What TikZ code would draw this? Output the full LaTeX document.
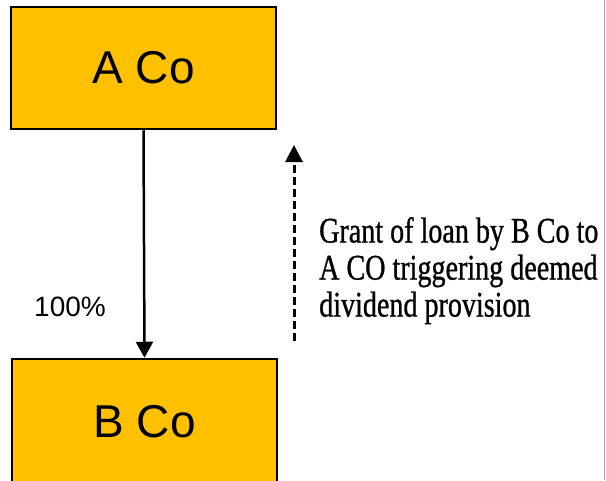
\documentclass[tikz,border=0pt]{standalone}
\usepackage{fontspec}
\setmainfont{Liberation Sans}
\newfontfamily\condserif[FakeStretch=0.78, FakeBold=0.8]{Liberation Serif}
\usetikzlibrary{arrows.meta, positioning}
\definecolor{coyellow}{HTML}{FFC000}
\tikzset{
  company/.style={rectangle, draw, line width=2.5pt, fill=coyellow,
                  minimum width=265pt, align=center,
                  font=\fontsize{46}{50}\selectfont},
  own/.style={-{Triangle[length=16pt, width=17pt]}, line width=2.5pt},
  loan/.style={-{Triangle[length=17pt, width=17pt]}, line width=3pt,
               dash pattern=on 8pt off 4pt},
  note/.style={align=left, inner sep=0pt,
               font=\condserif\fontsize{36}{35}\selectfont},
}
\begin{document}
\begin{tikzpicture}[x=1pt, y=-1pt]

  \useasboundingbox (0,0) rectangle (606,480);
  \fill[white] (0,0) rectangle (606,480);

  \node[company, minimum height=122pt] (aco) at (143.5,68) {A Co};
  \node[company, minimum height=126pt] (bco) at (144.5,422) {B Co};

  \draw[own] (aco.south) -- (bco.north);
  \node[font=\fontsize{28}{32}\selectfont] (share) at (70,307) {100\%};

  \coordinate (loanfoot) at (294,341);
  \coordinate (loantip) at (294,145);
  \draw[loan] (loanfoot) -- (loantip);

  \node[note, anchor=north west] (grant) at (319,217)
    {Grant of loan by B Co to\\[2pt]A CO triggering deemed\\[2pt]dividend provision};

  \draw[gray!70, line width=1pt] (604.5,0) -- (604.5,480);

\end{tikzpicture}
\end{document}
